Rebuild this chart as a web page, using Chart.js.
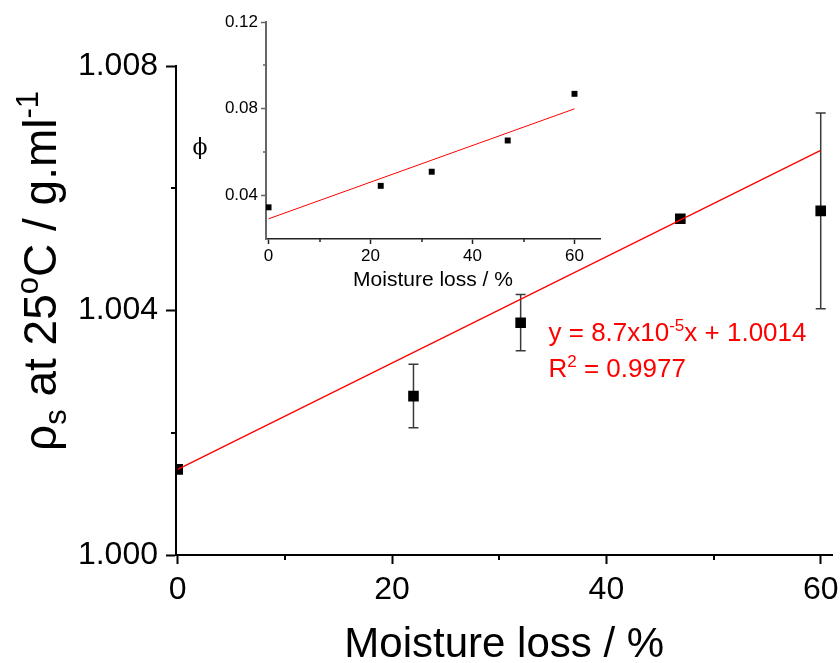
<!DOCTYPE html>
<html>
<head>
<meta charset="utf-8">
<script src="https://cdn.jsdelivr.net/npm/chart.js@4.4.1/dist/chart.umd.min.js"></script>
<style>
  html, body { margin: 0; padding: 0; background: #fff; }
  #wrap { position: relative; width: 840px; height: 663px; }
  #main { position: absolute; left: 0; top: 0; }
  #inset { position: absolute; left: 180px; top: 5px; }
</style>
</head>
<body>
<div id="wrap">
  <canvas id="main" width="840" height="663" style="width:840px;height:663px"></canvas>
  <canvas id="inset" width="440" height="300" style="width:440px;height:300px"></canvas>
</div>
<script>
// solution density vs moisture loss, with the volume fraction in the small panel
const moistureLoss = [0, 22, 32, 46.9, 60];
const density      = [1.0014, 1.0026, 1.0038, 1.0055, 1.00563];
const densityErr   = [0, 0.00052, 0.00046, 0, 0.0016];
const densityFitX  = [0, 60];
const densityFitY  = [1.0014, 1.00662];

const phiValues = [0.0346, 0.0445, 0.051, 0.0654, 0.0869];
const phiFitX   = [0, 60];
const phiFitY   = [0.0293, 0.080];

const xTickValues    = [0, 10, 20, 30, 40, 50, 60];
const xTickLabeled   = [0, 20, 40, 60];
const densityTicks   = [1.000, 1.002, 1.004, 1.006, 1.008];
const densityLabeled = [1.000, 1.004, 1.008];
const phiTicks       = [0.04, 0.06, 0.08, 0.10, 0.12];
const phiLabeled     = [0.04, 0.08, 0.12];

const FONT = '"Liberation Sans", Arial, Helvetica, sans-serif';
Chart.defaults.font.family = FONT;
Chart.defaults.color = "#000";

const near = (a, b) => Math.abs(a - b) < 1e-9;
const isIn = (v, list) => list.some(t => near(t, v));
const pts = (xs, ys) => xs.map((x, i) => ({ x, y: ys[i] }));
const fixTicks = list => scale => { scale.ticks = list.map(value => ({ value })); };

// text with sub/superscripts, drawn piece by piece
function drawRich(ctx, parts, x, y, align) {
  let total = 0;
  parts.forEach(p => {
    ctx.font = p.size + "px " + FONT;
    p.w = ctx.measureText(p.t).width;
    total += p.w;
  });
  let cx = align === "center" ? x - total / 2 : x;
  parts.forEach(p => {
    ctx.font = p.size + "px " + FONT;
    ctx.fillText(p.t, cx, y + (p.dy || 0));
    cx += p.w;
  });
}

// short ticks for the unlabeled values
const minorTicks = {
  id: "minorTicks",
  afterDraw(chart, args, o) {
    const { ctx, scales: { x, y } } = chart;
    ctx.save();
    ctx.lineWidth = o.width;
    o.xValues.filter(v => !isIn(v, o.xLabeled)).forEach(v => {
      const px = Math.round(x.getPixelForValue(v));
      ctx.strokeStyle = o.xColor;
      ctx.beginPath(); ctx.moveTo(px, x.top); ctx.lineTo(px, x.top + o.len); ctx.stroke();
    });
    o.yValues.filter(v => !isIn(v, o.yLabeled)).forEach(v => {
      const py = Math.round(y.getPixelForValue(v));
      ctx.strokeStyle = o.yColor;
      ctx.beginPath(); ctx.moveTo(y.right, py); ctx.lineTo(y.right - o.len, py); ctx.stroke();
    });
    ctx.restore();
  }
};

// vertical error bars with caps, under the squares
const errorBars = {
  id: "errorBars",
  beforeDatasetsDraw(chart) {
    const { ctx, scales: { x, y } } = chart;
    ctx.save();
    ctx.strokeStyle = "#3a3a3a";
    ctx.lineWidth = 1.5;
    chart.data.datasets.forEach(ds => {
      if (!ds.errors) return;
      ds.data.forEach((p, i) => {
        const e = ds.errors[i];
        if (!e) return;
        const px = x.getPixelForValue(p.x);
        const top = y.getPixelForValue(p.y + e);
        const bot = y.getPixelForValue(p.y - e);
        ctx.beginPath();
        ctx.moveTo(px, top); ctx.lineTo(px, bot);
        ctx.moveTo(px - 5, top); ctx.lineTo(px + 5, top);
        ctx.moveTo(px - 5, bot); ctx.lineTo(px + 5, bot);
        ctx.stroke();
      });
    });
    ctx.restore();
  }
};

const mainText = {
  id: "mainText",
  afterDraw(chart) {
    const { ctx, scales: { x, y } } = chart;
    ctx.save();
    ctx.fillStyle = "#000";
    ctx.textBaseline = "alphabetic";
    ctx.translate(56, 271);
    ctx.rotate(-Math.PI / 2);
    drawRich(ctx, [
      { t: "\u03C1", size: 46 },
      { t: "s", size: 31, dy: 10 },
      { t: " at 25", size: 46 },
      { t: "o", size: 31, dy: -18 },
      { t: "C / g.ml", size: 46 },
      { t: "-1", size: 31, dy: -18 }
    ], 0, 0, "center");
    ctx.restore();

    ctx.save();
    ctx.fillStyle = "#ff0000";
    const ex = x.getPixelForValue(34.6);
    const ey = y.getPixelForValue(1.0035);
    drawRich(ctx, [
      { t: "y = 8.7x10", size: 26 },
      { t: "-5", size: 17, dy: -10 },
      { t: "x + 1.0014", size: 26 }
    ], ex, ey, "left");
    drawRich(ctx, [
      { t: "R", size: 26 },
      { t: "2", size: 17, dy: -10 },
      { t: " = 0.9977", size: 26 }
    ], ex, ey + 36, "left");
    ctx.restore();
  }
};

const insetText = {
  id: "insetText",
  afterDraw(chart) {
    const ctx = chart.ctx;
    ctx.save();
    ctx.fillStyle = "#000";
    ctx.font = '22px "DejaVu Serif", "Liberation Serif", serif';
    ctx.textAlign = "center";
    ctx.textBaseline = "middle";
    ctx.fillText("\u03D5", 20, 143);
    ctx.restore();
  }
};

new Chart(document.getElementById("main"), {
  type: "scatter",
  data: {
    datasets: [
      { type: "line", data: pts(densityFitX, densityFitY), borderColor: "#ff0000", borderWidth: 1.3, pointRadius: 0, fill: false },
      { data: pts(moistureLoss, density), errors: densityErr, pointStyle: "rect", pointRadius: 7.5, backgroundColor: "#000", borderWidth: 0 }
    ]
  },
  options: {
    responsive: false,
    animation: false,
    layout: { padding: { top: 66, right: 0, left: 0, bottom: 0 } },
    plugins: {
      legend: { display: false },
      tooltip: { enabled: false },
      minorTicks: { len: 5, width: 2, xColor: "#000", yColor: "#000",
        xValues: xTickValues, xLabeled: xTickLabeled, yValues: densityTicks, yLabeled: densityLabeled }
    },
    scales: {
      x: {
        type: "linear", min: -0.16, max: 61.1,
        afterBuildTicks: fixTicks(xTickValues),
        afterFit: s => { s.height = 108; s.paddingLeft = 0; s.paddingRight = 0; },
        border: { display: true, color: "#000", width: 2 },
        grid: { drawOnChartArea: false, tickLength: 9, tickWidth: 2,
          tickColor: c => isIn(c.tick.value, xTickLabeled) ? "#000" : "rgba(0,0,0,0)" },
        ticks: { font: { size: 32 }, padding: 7, maxRotation: 0, autoSkip: false,
          callback: v => isIn(v, xTickLabeled) ? String(v) : "" },
        title: { display: true, text: "Moisture loss / %", font: { size: 42, lineHeight: 0.8 }, padding: { top: 0, bottom: 1 } }
      },
      y: {
        type: "linear", min: 1.000, max: 1.008,
        afterBuildTicks: fixTicks(densityTicks),
        afterFit: s => { s.width = 176; s.paddingTop = 0; s.paddingBottom = 0; },
        border: { display: true, color: "#000", width: 2 },
        grid: { drawOnChartArea: false, tickLength: 10, tickWidth: 2,
          tickColor: c => isIn(c.tick.value, densityLabeled) ? "#000" : "rgba(0,0,0,0)" },
        ticks: { font: { size: 32 }, padding: 8, autoSkip: false,
          callback: v => isIn(v, densityLabeled) ? v.toFixed(3) : "" }
      }
    }
  },
  plugins: [errorBars, minorTicks, mainText]
});

new Chart(document.getElementById("inset"), {
  type: "scatter",
  data: {
    datasets: [
      { type: "line", data: pts(phiFitX, phiFitY), borderColor: "#ff0000", borderWidth: 1, pointRadius: 0, fill: false },
      { data: pts(moistureLoss, phiValues), pointStyle: "rect", pointRadius: 4.2, backgroundColor: "#000", borderWidth: 0 }
    ]
  },
  options: {
    responsive: false,
    animation: false,
    layout: { padding: { top: 17, right: 20, left: 0, bottom: 0 } },
    plugins: {
      legend: { display: false },
      tooltip: { enabled: false },
      minorTicks: { len: 3, width: 1.5, xColor: "#222", yColor: "#666",
        xValues: xTickValues, xLabeled: xTickLabeled, yValues: phiTicks, yLabeled: phiLabeled }
    },
    scales: {
      x: {
        type: "linear", min: -0.5, max: 65,
        afterBuildTicks: fixTicks(xTickValues),
        afterFit: s => { s.height = 66; s.paddingLeft = 0; s.paddingRight = 0; },
        border: { display: true, color: "#222", width: 1.5 },
        grid: { drawOnChartArea: false, tickLength: 5, tickWidth: 1.5,
          tickColor: c => isIn(c.tick.value, xTickLabeled) ? "#222" : "rgba(0,0,0,0)" },
        ticks: { font: { size: 17 }, padding: 2, maxRotation: 0, autoSkip: false,
          callback: v => isIn(v, xTickLabeled) ? String(v) : "" },
        title: { display: true, text: "Moisture loss / %", font: { size: 21, lineHeight: 1.2 }, padding: { top: 0, bottom: 12 } }
      },
      y: {
        type: "linear", min: 0.02, max: 0.12,
        afterBuildTicks: fixTicks(phiTicks),
        afterFit: s => { s.width = 86; s.paddingTop = 0; s.paddingBottom = 0; },
        border: { display: true, color: "#666", width: 2 },
        grid: { drawOnChartArea: false, tickLength: 5, tickWidth: 1.5,
          tickColor: c => isIn(c.tick.value, phiLabeled) ? "#666" : "rgba(0,0,0,0)" },
        ticks: { font: { size: 17 }, padding: 3, autoSkip: false,
          callback: v => isIn(v, phiLabeled) ? v.toFixed(2) : "" }
      }
    }
  },
  plugins: [minorTicks, insetText]
});
</script>
</body>
</html>
